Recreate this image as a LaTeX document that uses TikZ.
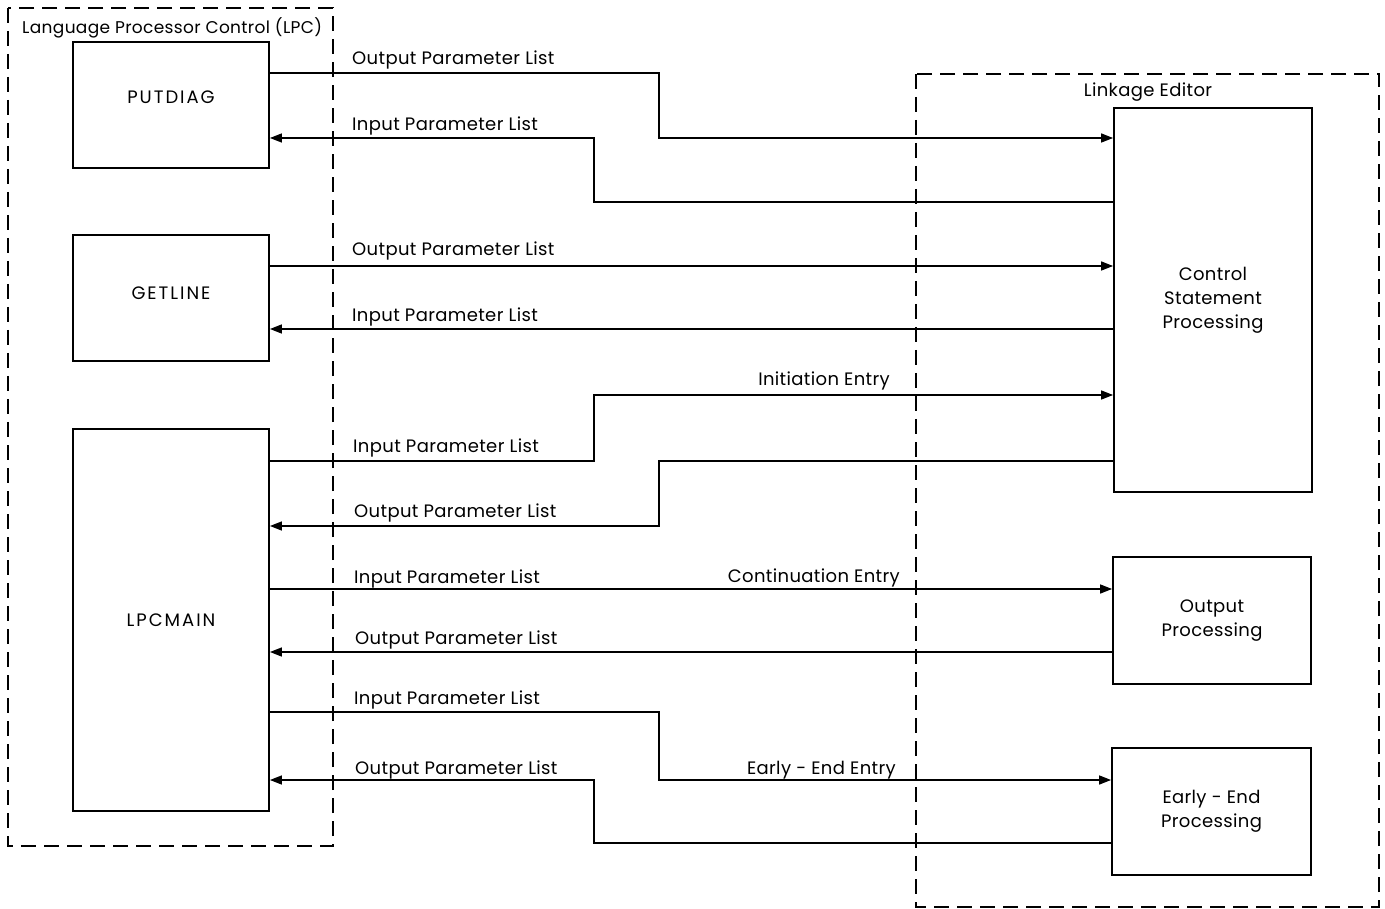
\documentclass[tikz,border=0pt]{standalone}
\usepackage{fontspec}
\setmainfont{Poppins}[LetterSpace=2]
\newfontfamily\modfont{Poppins}[LetterSpace=11]
\usetikzlibrary{arrows.meta}

\begin{document}
\begin{tikzpicture}[
x=1pt,
y=-1pt,
every node/.style={font=\fontsize{18}{24}\selectfont},
module/.style={rectangle,draw,line width=1.8pt,align=center,inner sep=0pt,minimum width=196pt,minimum height=126pt},
phase/.style={module,minimum width=198pt,minimum height=127pt},
frame/.style={line width=1.5pt,dash pattern=on 15pt off 8pt},
arr/.style={-{Triangle[length=12pt,width=9pt]},line width=1.4pt},
lbl/.style={anchor=base west,inner sep=0pt},
rlbl/.style={anchor=base east,inner sep=0pt}
]
\useasboundingbox (0,0) rectangle (1385,909);

% the two dashed groupings
\draw[frame] (8,8) rectangle (333,846);
\draw[frame] (916,74) rectangle (1379,907);
\node[lbl,font=\fontsize{17}{24}\selectfont] (lpctitle) at (22,34) {Language Processor Control (LPC)};
\node (linktitle) at (1148,92) {Linkage Editor};

% LPC modules
\node[module] (putdiag) at (171,105) {\modfont\raisebox{16pt}{PUTDIAG}};
\node[module] (getline) at (171,298) {\modfont\raisebox{10pt}{GETLINE}};
\node[module,minimum height=382pt] (lpcmain) at (171,620) {\modfont LPCMAIN};

% linkage editor phases
\node[phase,minimum height=384pt] (ctlstmt) at (1213,300) {Control\\Statement\\Processing};
\node[phase] (outproc) at (1212,620.5) {Output\\Processing};
\node[phase,minimum width=199pt] (earlyend) at (1211.5,811.5) {Early - End\\Processing};

% connectors
\draw[arr] (putdiag.east|-0,73) -| (659,105) |- (ctlstmt.west|-0,138);
\draw[arr] (ctlstmt.west|-0,202) -| (594,170) |- (putdiag.east|-0,138);
\draw[arr] (getline.east|-0,266) -- (ctlstmt.west|-0,266);
\draw[arr] (ctlstmt.west|-0,329) -- (getline.east|-0,329);
\draw[arr] (lpcmain.east|-0,461) -| (594,430) |- (ctlstmt.west|-0,395);
\draw[arr] (ctlstmt.west|-0,461) -| (659,490) |- (lpcmain.east|-0,526);
\draw[arr] (lpcmain.east|-0,589) -- (outproc.west|-0,589);
\draw[arr] (outproc.west|-0,652) -- (lpcmain.east|-0,652);
\draw[arr] (lpcmain.east|-0,712) -| (659,745) |- (earlyend.west|-0,780);
\draw[arr] (earlyend.west|-0,843) -| (594,810) |- (lpcmain.east|-0,780);

% connector labels
\node[lbl] (out1) at (352,65) {Output Parameter List};
\node[lbl] (in1) at (352,131) {Input Parameter List};
\node[lbl] (out2) at (352,256) {Output Parameter List};
\node[lbl] (in2) at (352,322) {Input Parameter List};
\node[rlbl] (init) at (890,386) {Initiation Entry};
\node[lbl] (in3) at (353,453) {Input Parameter List};
\node[lbl] (out3) at (354,517) {Output Parameter List};
\node[lbl] (in4) at (354,583) {Input Parameter List};
\node[rlbl] (contin) at (900,582) {Continuation Entry};
\node[lbl] (out4) at (355,644) {Output Parameter List};
\node[lbl] (in5) at (354,704) {Input Parameter List};
\node[rlbl] (early) at (896,774) {Early - End Entry};
\node[lbl] (out5) at (355,774) {Output Parameter List};
\end{tikzpicture}
\end{document}
